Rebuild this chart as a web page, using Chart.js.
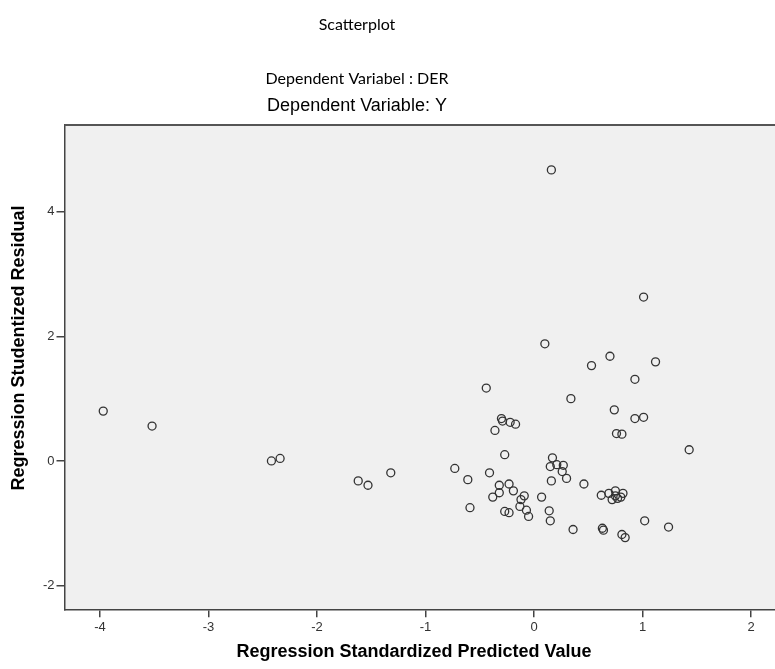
<!DOCTYPE html>
<html>
<head>
<meta charset="utf-8">
<script src="https://cdn.jsdelivr.net/npm/chart.js@4"></script>
<style>
html,body{margin:0;padding:0;background:#fff;}
#wrap{width:775px;height:669px;position:relative;}
</style>
</head>
<body>
<div id="wrap"><canvas id="c" width="775" height="669"></canvas></div>
<script>
// Regression Standardized Predicted Value (x) and Regression Studentized Residual (y)
const predicted = [
  0.16, 1.01, 0.10, 0.70, 0.53, 1.12, 0.93, -0.44,
  -3.97, -3.52, -2.42, -2.34, -1.62, -1.53, -1.32,
  0.34, 0.74, 0.93, 1.01, 0.76, 0.81, 1.43,
  -0.30, -0.29, -0.22, -0.17, -0.36, -0.27,
  -0.73, -0.61, -0.41, -0.59, -0.32, -0.23, -0.19, -0.32, -0.38,
  -0.09, -0.12, -0.13, -0.07, -0.05, -0.27, -0.23,
  0.07, 0.14, 0.15, 0.16, 0.17, 0.15, 0.21, 0.27, 0.26, 0.30,
  0.46, 0.36, 0.62, 0.69, 0.75, 0.82, 0.72, 0.77, 0.80, 0.75,
  0.63, 0.64, 0.81, 0.84, 1.02, 1.24
];
const residual = [
  4.67, 2.63, 1.88, 1.68, 1.53, 1.59, 1.31, 1.17,
  0.80, 0.56, 0.00, 0.04, -0.32, -0.39, -0.19,
  1.00, 0.82, 0.68, 0.70, 0.44, 0.43, 0.18,
  0.68, 0.64, 0.62, 0.59, 0.49, 0.10,
  -0.12, -0.30, -0.19, -0.75, -0.39, -0.37, -0.48, -0.51, -0.58,
  -0.56, -0.62, -0.73, -0.79, -0.89, -0.81, -0.83,
  -0.58, -0.80, -0.96, -0.32, 0.05, -0.09, -0.06, -0.07, -0.17, -0.28,
  -0.37, -1.10, -0.55, -0.52, -0.48, -0.52, -0.62, -0.60, -0.58, -0.56,
  -1.08, -1.11, -1.18, -1.23, -0.96, -1.06
];
const xTicks = [-4, -3, -2, -1, 0, 1, 2];
const yTicks = [-2, 0, 2, 4];

const chartTitle = "Scatterplot";
const subTitle1 = "Dependent Variabel : DER";
const subTitle2 = "Dependent Variable: Y";
const xTitle = "Regression Standardized Predicted Value";
const yTitle = "Regression Studentized Residual";

const points = predicted.map((v, i) => ({x: v, y: residual[i]}));

const decor = {
  id: 'decor',
  beforeDraw(chart) {
    const {ctx, chartArea: a} = chart;
    ctx.save();
    ctx.fillStyle = '#f0f0f0';
    ctx.fillRect(a.left, a.top, a.right - a.left, a.bottom - a.top);
    ctx.restore();
  },
  afterDraw(chart) {
    const {ctx, chartArea: a} = chart;
    ctx.save();
    ctx.strokeStyle = '#555';
    ctx.lineWidth = 2;
    ctx.beginPath();
    ctx.moveTo(a.left, a.top);
    ctx.lineTo(a.right, a.top);
    ctx.stroke();
    ctx.fillStyle = '#000';
    ctx.textAlign = 'center';
    ctx.textBaseline = 'middle';
    ctx.font = '16px Lato, "Open Sans", sans-serif';
    ctx.fillText(chartTitle, 357, 25);
    ctx.fillText(subTitle1, 357, 79);
    ctx.font = '18px "Liberation Sans", Arial, sans-serif';
    ctx.fillText(subTitle2, 357, 106);
    ctx.font = 'bold 18px "Liberation Sans", Arial, sans-serif';
    ctx.fillText(xTitle, 414, 652);
    ctx.translate(19, 348);
    ctx.rotate(-Math.PI / 2);
    ctx.fillText(yTitle, 0, 0);
    ctx.restore();
  }
};

new Chart(document.getElementById('c'), {
  type: 'scatter',
  data: {
    datasets: [{
      data: points,
      pointStyle: 'circle',
      radius: 4,
      hoverRadius: 4,
      backgroundColor: 'rgba(0,0,0,0)',
      borderColor: '#333',
      borderWidth: 1.3,
      clip: false
    }]
  },
  options: {
    responsive: false,
    animation: false,
    layout: {autoPadding: false, padding: {top: 125, right: 0, left: 0, bottom: 0}},
    plugins: {legend: {display: false}, tooltip: {enabled: false}, title: {display: false}},
    scales: {
      x: {
        type: 'linear',
        min: -4.327,
        max: 2.221,
        afterFit(s) { s.height = 59.7; s.paddingRight = 0; s.paddingLeft = 0; },
        afterBuildTicks(s) { s.ticks = xTicks.map(v => ({value: v})); },
        ticks: {font: {family: '"Liberation Sans", Arial, sans-serif', size: 13}, color: '#333', padding: 2},
        grid: {drawOnChartArea: false, drawTicks: true, tickLength: 8, color: '#444', lineWidth: 1.5},
        border: {display: true, color: '#444', width: 1.5}
      },
      y: {
        type: 'linear',
        min: -2.38,
        max: 5.39,
        afterFit(s) { s.width = 64.5; s.paddingTop = 0; s.paddingBottom = 0; },
        afterBuildTicks(s) { s.ticks = yTicks.map(v => ({value: v})); },
        ticks: {font: {family: '"Liberation Sans", Arial, sans-serif', size: 13}, color: '#333', padding: 2},
        grid: {drawOnChartArea: false, drawTicks: true, tickLength: 8, color: '#444', lineWidth: 1.5},
        border: {display: true, color: '#444', width: 1.5}
      }
    }
  },
  plugins: [decor]
});
</script>
</body>
</html>
